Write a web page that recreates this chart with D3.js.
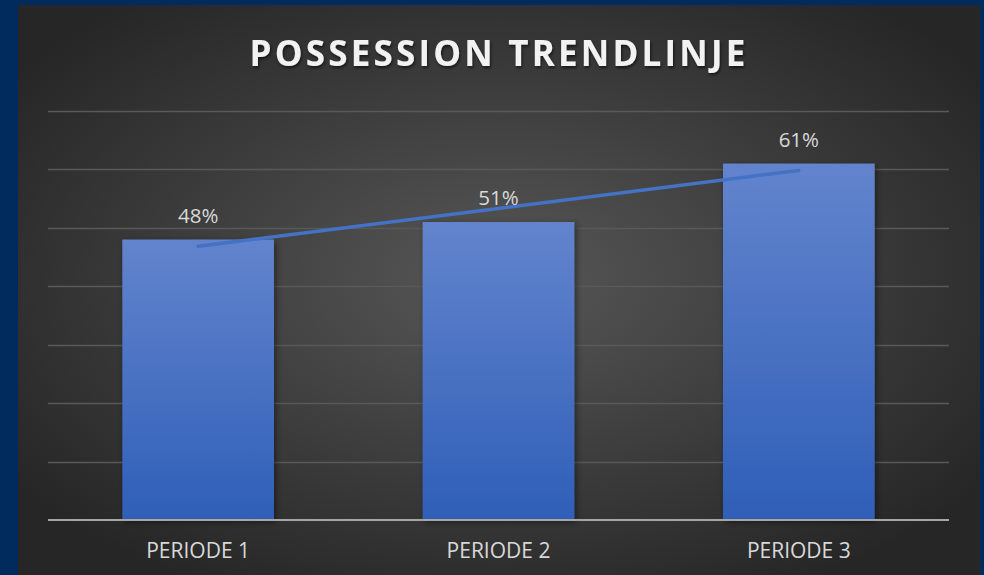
<!doctype html>
<html lang="en">
<head>
<meta charset="utf-8">
<title>Possession trendlinje</title>
<script src="https://d3js.org/d3.v7.min.js"></script>
<style>
  html, body { margin: 0; padding: 0; background: #002b5c; }
  svg { display: block; }
</style>
</head>
<body>
<div id="chart"></div>
<script>
// data
var categories = ["PERIODE 1", "PERIODE 2", "PERIODE 3"];
var values = [48, 51, 61];
var yTicks = [0, 10, 20, 30, 40, 50, 60, 70];

var W = 984, H = 575;
var panel = {x: 18, y: 5, w: 962, h: 570};
var margin = {top: 111, left: 48, right: 35, bottom: 55};

var svg = d3.select("#chart").append("svg")
  .attr("width", W)
  .attr("height", H);

var defs = svg.append("defs");

// background glow of the panel
var bg = defs.append("radialGradient")
  .attr("id", "bg")
  .attr("cx", "50%").attr("cy", "48%").attr("r", "62%");
bg.append("stop").attr("offset", "0%").attr("stop-color", "#575757");
bg.append("stop").attr("offset", "100%").attr("stop-color", "#262626");

var barGrad = defs.append("linearGradient")
  .attr("id", "bar")
  .attr("x1", 0).attr("y1", 0).attr("x2", 0).attr("y2", 1);
barGrad.append("stop").attr("offset", "0%").attr("stop-color", "#6384cd");
barGrad.append("stop").attr("offset", "100%").attr("stop-color", "#2f5fb8");

var shadow = defs.append("filter").attr("id", "shadow")
  .attr("x", "-20%").attr("y", "-20%").attr("width", "140%").attr("height", "140%");
shadow.append("feDropShadow")
  .attr("dx", 2).attr("dy", 2).attr("stdDeviation", 3)
  .attr("flood-color", "#000").attr("flood-opacity", 0.45);

svg.append("rect")
  .attr("x", panel.x).attr("y", panel.y)
  .attr("width", panel.w).attr("height", panel.h)
  .attr("fill", "url(#bg)");

var plotW = 949 - margin.left;
var plotH = 520 - margin.top;

var g = svg.append("g")
  .attr("transform", "translate(" + margin.left + "," + margin.top + ")");

var x = d3.scaleBand()
  .domain(categories)
  .range([0, plotW])
  .paddingInner(0.495)
  .paddingOuter(0.2475);

var y = d3.scaleLinear()
  .domain([0, 70])
  .range([plotH, 0]);

// gridlines
g.selectAll("line.grid")
  .data(yTicks.slice(1))
  .enter()
  .append("line")
    .attr("class", "grid")
    .attr("x1", 0).attr("x2", plotW)
    .attr("y1", function(d){ return Math.round(y(d)) + 0.5; })
    .attr("y2", function(d){ return Math.round(y(d)) + 0.5; })
    .style("stroke", "#595959")
    .style("stroke-width", 1.3);

// bars
g.selectAll("rect.bar")
  .data(values)
  .enter()
  .append("rect")
    .attr("class", "bar")
    .attr("x", function(d, i){ return x(categories[i]); })
    .attr("y", function(d){ return y(d); })
    .attr("width", x.bandwidth())
    .attr("height", function(d){ return plotH - y(d); })
    .attr("fill", "url(#bar)")
    .attr("filter", "url(#shadow)");

// axis line
g.append("line")
  .attr("x1", 0).attr("x2", plotW)
  .attr("y1", plotH).attr("y2", plotH)
  .style("stroke", "#a6a6a6")
  .style("stroke-width", 2);

// linear trendline (least squares on period index)
var n = values.length;
var mx = d3.mean(values, function(d, i){ return i + 1; });
var my = d3.mean(values);
var sxy = d3.sum(values, function(d, i){ return (i + 1 - mx) * (d - my); });
var sxx = d3.sum(values, function(d, i){ return (i + 1 - mx) * (i + 1 - mx); });
var slope = sxy / sxx;
var icpt = my - slope * mx;

g.append("line")
  .attr("x1", x(categories[0]) + x.bandwidth() / 2)
  .attr("x2", x(categories[n - 1]) + x.bandwidth() / 2)
  .attr("y1", y(icpt + slope * 1))
  .attr("y2", y(icpt + slope * n))
  .style("stroke", "#4472c4")
  .style("stroke-width", 3.5)
  .style("stroke-linecap", "round");

// data labels
g.selectAll("text.val")
  .data(values)
  .enter()
  .append("text")
    .attr("class", "val")
    .attr("x", function(d, i){ return x(categories[i]) + x.bandwidth() / 2; })
    .attr("y", function(d){ return y(d) - 17; })
    .attr("text-anchor", "middle")
    .attr("font-family", "'Open Sans', sans-serif")
    .attr("font-size", "20.5px")
    .attr("fill", "#d9d9d9")
    .text(function(d){ return d + "%"; });

// category labels
g.selectAll("text.cat")
  .data(categories)
  .enter()
  .append("text")
    .attr("class", "cat")
    .attr("x", function(d){ return x(d) + x.bandwidth() / 2; })
    .attr("y", plotH + 38)
    .attr("text-anchor", "middle")
    .attr("font-family", "'Open Sans', sans-serif")
    .attr("font-size", "21px")
    .attr("fill", "#d9d9d9")
    .text(function(d){ return d; });

// title
var tShadow = defs.append("filter").attr("id", "tshadow");
tShadow.append("feDropShadow")
  .attr("dx", 1).attr("dy", 2).attr("stdDeviation", 1.5)
  .attr("flood-color", "#000").attr("flood-opacity", 0.6);

svg.append("text")
  .attr("x", 499)
  .attr("y", 66)
  .attr("text-anchor", "middle")
  .attr("font-family", "'Open Sans', sans-serif")
  .attr("font-weight", "bold")
  .attr("font-size", "35px")
  .attr("letter-spacing", "3.2px")
  .attr("fill", "#f2f2f2")
  .attr("filter", "url(#tshadow)")
  .text("POSSESSION TRENDLINJE");
</script>
</body>
</html>
